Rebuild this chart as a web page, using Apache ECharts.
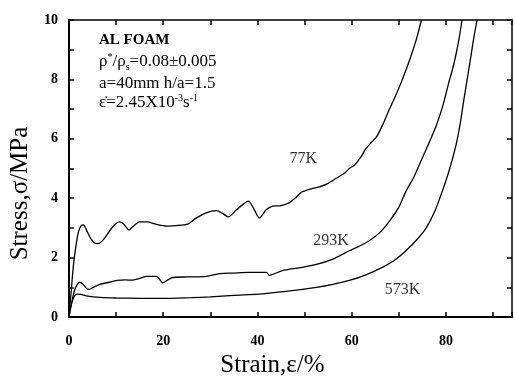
<!DOCTYPE html>
<html><head><meta charset="utf-8">
<script src="https://cdn.jsdelivr.net/npm/echarts@6/dist/echarts.min.js"></script>
<style>html,body{margin:0;padding:0;background:#fff}#c{width:515px;height:383px}</style>
</head><body><div id="c"></div>
<script>
var xTicks = [0, 20, 40, 60, 80];
var yTicks = [0, 2, 4, 6, 8, 10];
var seriesNames = ['77K', '293K', '573K'];
var s77 = [[0,0],[0.5,0.9],[1.0,1.8],[1.5,2.4],[2.0,2.85],[2.6,3.08],[3.1,3.1],[3.8,2.9],[4.6,2.65],[5.4,2.5],[6.1,2.47],[7.0,2.55],[8.0,2.75],[9.0,2.98],[10.0,3.15],[10.8,3.2],[11.8,3.1],[12.7,2.93],[13.6,3.05],[15.0,3.2],[16.5,3.2],[18.5,3.12],[20.7,3.06],[22.5,3.08],[25.2,3.13],[27.0,3.33],[29.0,3.5],[31.3,3.58],[32.5,3.5],[33.8,3.37],[35.5,3.6],[37.0,3.8],[38.1,3.9],[39.2,3.65],[40.4,3.33],[41.8,3.6],[43.2,3.73],[45,3.75],[46.8,3.85],[48,4.0],[49.3,4.2],[51,4.3],[53.1,4.38],[55,4.5],[56.7,4.67],[58.5,4.85],[59.5,5.0],[60.5,5.1],[62,5.4],[63,5.67],[64.3,5.9],[65.4,6.1],[66.8,6.55],[68,7.0],[69.3,7.45],[70.5,7.9],[71.7,8.4],[72.8,8.9],[73.8,9.4],[74.8,10.0]];
var s293 = [[0,0],[0.6,0.5],[1.2,0.9],[1.8,1.1],[2.3,1.17],[3.0,1.1],[3.7,0.97],[4.3,0.93],[5.2,1.0],[6.6,1.1],[8.5,1.17],[10.2,1.23],[12,1.25],[13.3,1.24],[15,1.3],[16.5,1.37],[18.6,1.37],[19.9,1.15],[21,1.25],[22,1.33],[25,1.35],[29.2,1.37],[32,1.46],[35,1.48],[38.1,1.5],[40,1.5],[41.9,1.5],[42.5,1.4],[43.5,1.45],[45.3,1.56],[49,1.66],[52.5,1.77],[56,1.95],[59.5,2.23],[61.5,2.38],[63.7,2.57],[66,2.85],[68,3.23],[70,3.7],[71.5,4.23],[73.3,4.75],[74.9,5.33],[76.5,5.9],[77.9,6.43],[79.3,7.1],[80.6,7.9],[81.4,8.35],[82.1,8.83],[82.8,9.4],[83.4,10.0]];
var s573 = [[0,0],[0.5,0.4],[1.0,0.65],[1.7,0.77],[2.5,0.76],[4,0.7],[6.6,0.66],[10,0.64],[15,0.63],[21.4,0.63],[26,0.65],[30,0.68],[35,0.73],[40.4,0.77],[46,0.86],[52.5,1.0],[56,1.1],[59.5,1.23],[63,1.42],[66.5,1.67],[69,1.9],[71.5,2.23],[73.8,2.6],[75.8,3.0],[77.6,3.55],[79.2,4.23],[80.7,4.95],[82.1,5.77],[83.0,6.5],[83.8,7.33],[84.7,8.2],[85.5,9.0],[86.0,9.5],[86.6,10.0]];
var labelPos = [[49.7,5.33],[55.6,2.55],[70.8,0.9]];

var F = 'Liberation Serif';
function lineSeries(name, data) {
  return {name: name, type: 'line', data: data, symbol: 'none', smooth: 0.25,
    lineStyle: {color: '#000', width: 1.3}, z: 3, silent: true};
}
function tickAxis(pos, max, interval, width) {
  return {type: 'value', min: 0, max: max, interval: interval, position: pos, offset: 0,
    splitLine: {show: false}, axisLabel: {show: false},
    axisLine: {onZero: false, lineStyle: {color: '#000', width: width}},
    axisTick: {show: true, inside: true, length: 5, lineStyle: {color: '#000', width: 1.5}}};
}
var chart = echarts.init(document.getElementById('c'));
chart.setOption({
  animation: false,
  grid: {left: 68, right: 2, top: 20, bottom: 63},
  xAxis: [
    {type: 'value', min: 0, max: 94, interval: 10, position: 'bottom',
      splitLine: {show: false}, axisTick: {show: false},
      axisLine: {onZero: false, lineStyle: {color: '#000', width: 2}},
      axisLabel: {margin: 17, fontFamily: F, fontWeight: 'bold', fontSize: 14, color: '#000',
        formatter: function (v) { return xTicks.indexOf(v) >= 0 ? String(v) : ''; }},
      name: 'Strain,\u03b5/%', nameLocation: 'middle', nameGap: 36,
      nameTextStyle: {fontFamily: F, fontSize: 25, color: '#000', padding: [0, 36, 0, 0]}},
    tickAxis('top', 94, 10, 1.5),
    tickAxis('bottom', 94, 10, 2)
  ],
  yAxis: [
    {type: 'value', min: 0, max: 10, interval: 1, position: 'left',
      splitLine: {show: false}, axisTick: {show: false},
      axisLine: {onZero: false, lineStyle: {color: '#000', width: 2}},
      axisLabel: {margin: 11, fontFamily: F, fontWeight: 'bold', fontSize: 14, color: '#000',
        formatter: function (v) { return yTicks.indexOf(v) >= 0 ? String(v) : ''; }},
      name: 'Stress,\u03c3/MPa', nameLocation: 'middle', nameGap: 34,
      nameTextStyle: {fontFamily: F, fontSize: 25, color: '#000', padding: [0, 50, 0, 0]}},
    tickAxis('right', 10, 1, 1.5),
    tickAxis('left', 10, 1, 2)
  ],
  series: [
    lineSeries(seriesNames[0], s77),
    lineSeries(seriesNames[1], s293),
    lineSeries(seriesNames[2], s573),
    {type: 'scatter', symbolSize: 0, silent: true,
      data: labelPos.map(function (p, i) { return {value: p, name: seriesNames[i]}; }),
      label: {show: true, position: 'inside', formatter: '{b}', fontFamily: F, fontSize: 16, color: '#000'}}
  ],
  graphic: [
    {type: 'text', left: 99, top: 33, style: {text: 'AL FOAM', font: 'bold 15px "Liberation Serif"', fill: '#000'}},
    {type: 'text', left: 99, top: 52, style: {
      text: '\u03c1{sup|*}/\u03c1{sub|s}=0.08\u00b10.005', font: '17px "Liberation Serif"', fill: '#000', lineHeight: 20,
      rich: {sup: {fontSize: 10, fontFamily: F, verticalAlign: 'top', lineHeight: 20}, sub: {fontSize: 10, fontFamily: F, verticalAlign: 'bottom', lineHeight: 20}}}},
    {type: 'text', left: 99, top: 75, style: {text: 'a=40mm h/a=1.5', font: '17px "Liberation Serif"', fill: '#000'}},
    {type: 'text', left: 99, top: 93, style: {
      text: '\u03b5\u0307=2.45X10{sup|-3}s{sup|-1}', font: '17px "Liberation Serif"', fill: '#000', lineHeight: 20,
      rich: {sup: {fontSize: 10, fontFamily: F, verticalAlign: 'top', lineHeight: 20}}}}
  ]
});
</script></body></html>
